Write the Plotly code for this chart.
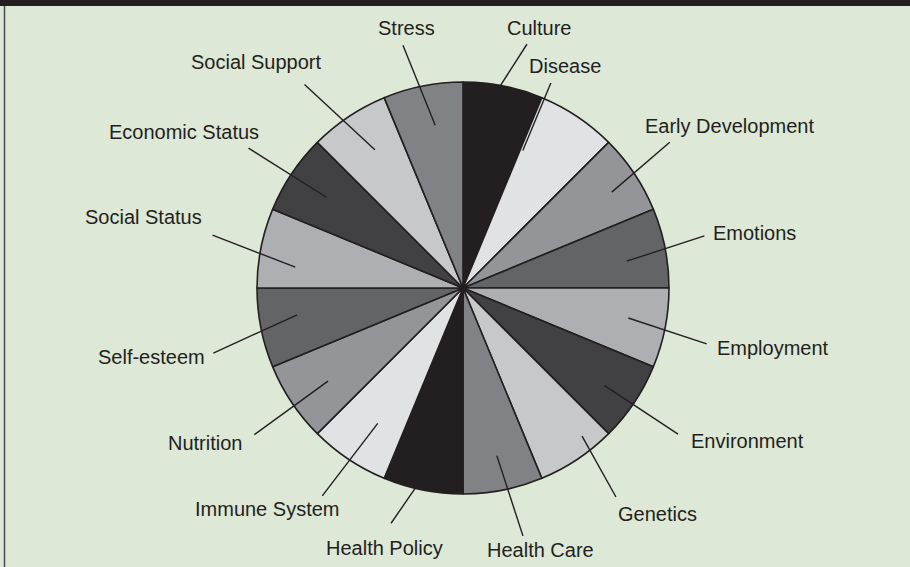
import math
import plotly.graph_objects as go

# ---------------- data ----------------
categories = [
    "Culture", "Disease", "Early Development", "Emotions", "Employment",
    "Environment", "Genetics", "Health Care", "Health Policy", "Immune System",
    "Nutrition", "Self-esteem", "Social Status", "Economic Status",
    "Social Support", "Stress",
]
values = [1, 1, 1, 1, 1, 1, 1, 1, 1, 1, 1, 1, 1, 1, 1, 1]
slice_colors = [
    "#231f20", "#e1e2e3", "#939598", "#636466", "#aeafb2", "#414042", "#c7c8ca", "#808285",
    "#231f20", "#e1e2e3", "#939598", "#636466", "#aeafb2", "#414042", "#c7c8ca", "#808285",
]

# ------------- label layout (styling) -------------
# per label: (inner dθ, inner r, outer dθ, outer r, text dθ, text r); angles relative to slice middle (deg), r in px
label_layout = [
    (-2.75, 190, 3.45, 252, 5.05, 271),
    (-10.25, 150, -10.55, 223, -9.05, 244),
    (0.95, 177, -1.45, 253, 2.55, 312),
    (1.95, 166, -0.95, 247, 0.55, 297),
    (-0.95, 168, 1.65, 250, -0.25, 316),
    (0.85, 172, 0.45, 260, -5.55, 323),
    (-5.05, 190, -2.45, 259, -7.05, 298),
    (-0.15, 171, -2.35, 255, -5.35, 273),
    (-0.35, 185, 5.75, 246, 5.55, 272),
    (-1.55, 160, 0.35, 251, 7.85, 295),
    (-0.85, 164, -1.35, 255, 2.7, 301),
    (2.05, 168, -3.35, 258, -1.25, 319),
    (-4.15, 169, 0.65, 256, 1.25, 327),
    (-0.15, 164, -0.65, 256, -4.55, 320),
    (1.25, 164, -4.15, 258, -8.75, 306),
    (1.55, 165, -2.65, 250, -1.05, 266),
]

W, H = 910, 567
CX, CY, R = 463, 288, 206
INK = "#231f20"
BG = "#dde8d6"


def to_paper(px, py):
    return px / W, 1 - py / H


def polar(angle_deg, r):
    a = math.radians(angle_deg)
    return CX + r * math.sin(a), CY - r * math.cos(a)


fig = go.Figure(
    go.Pie(
        labels=categories,
        values=values,
        sort=False,
        direction="clockwise",
        rotation=0,
        textinfo="none",
        hoverinfo="label",
        marker=dict(colors=slice_colors, line=dict(color=INK, width=1.6)),
        domain=dict(
            x=[(CX - R) / W, (CX + R) / W],
            y=[1 - (CY + R) / H, 1 - (CY - R) / H],
        ),
        showlegend=False,
    )
)

total = sum(values)
cum = 0
shapes = []
annotations = []
for name, v, lay in zip(categories, values, label_layout):
    mid = (cum + v / 2) / total * 360
    cum += v
    din, rin, dout, rout, dtxt, rtxt = lay
    x0, y0 = to_paper(*polar(mid + din, rin))
    x1, y1 = to_paper(*polar(mid + dout, rout))
    shapes.append(dict(type="line", xref="paper", yref="paper", x0=x0, y0=y0, x1=x1, y1=y1,
                       line=dict(color=INK, width=1.4)))
    tx, ty = to_paper(*polar(mid + dtxt, rtxt))
    annotations.append(dict(text=name, x=tx, y=ty, xref="paper", yref="paper",
                            xanchor="center", yanchor="middle", showarrow=False,
                            font=dict(family="Liberation Sans, Arial, sans-serif", size=20, color=INK)))

# header bar and left frame line
shapes.append(dict(type="rect", xref="paper", yref="paper", x0=0, x1=1, y0=1 - 6 / H, y1=1,
                   fillcolor=INK, line=dict(width=0), layer="above"))
shapes.append(dict(type="line", xref="paper", yref="paper", x0=4.5 / W, x1=4.5 / W, y0=0, y1=1 - 6 / H,
                   line=dict(color="#4a4a4c", width=1.5)))

fig.update_layout(
    width=W, height=H,
    margin=dict(l=0, r=0, t=0, b=0),
    paper_bgcolor=BG, plot_bgcolor=BG,
    shapes=shapes, annotations=annotations,
)

fig.write_html(
    "out.html",
    config={"displayModeBar": False},
    post_script="document.body.style.margin='0';document.body.style.overflow='hidden';",
)
